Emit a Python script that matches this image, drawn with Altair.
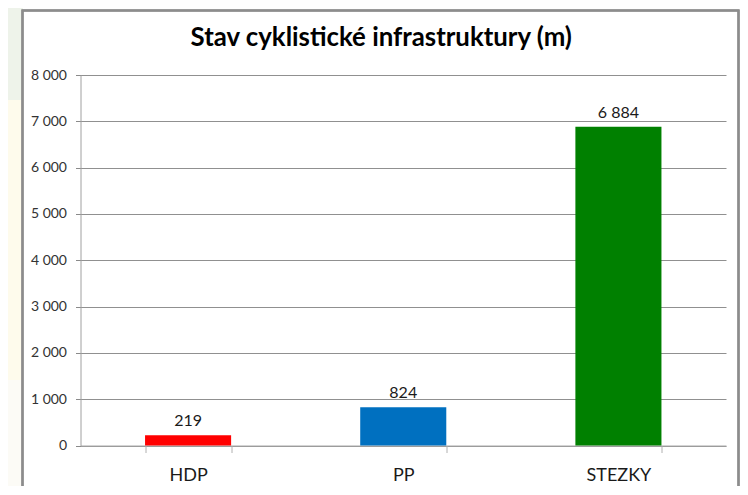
import altair as alt
import pandas as pd

categories = ["HDP", "PP", "STEZKY"]
values = [219, 824, 6884]
colors = ["#ff0000", "#0070c0", "#008000"]
title_text = "Stav cyklistické infrastruktury (m)"
FONT = "Lato"

df = pd.DataFrame({"cat": categories, "val": values, "col": colors})
x = alt.X("cat:N", sort=categories, title=None,
          scale=alt.Scale(paddingInner=0.6, paddingOuter=0.3),
          axis=alt.Axis(labelAngle=0, labelFont=FONT, labelFontSize=18, labelColor="#1a1a1a",
                        labelPadding=14, tickBand="extent", tickSize=7, tickColor="#b0b0b0",
                        domainColor="#a8a8a8", grid=False))
y = alt.Y("val:Q", title=None, scale=alt.Scale(domain=[0, 8000], nice=False),
          axis=alt.Axis(values=list(range(0, 8001, 1000)),
                        labelExpr="replace(format(datum.value, ','), ',', ' ')",
                        labelFont=FONT, labelFontSize=14, labelColor="#333333", labelPadding=9,
                        tickSize=5, tickColor="#8a8a8a", domainColor="#a0a0a0",
                        grid=True, gridColor="#909090", gridOpacity=1))


def strip(color, top, bottom):
    return alt.Chart(df).mark_rect(fill=color, clip=False).encode(
        x=alt.value(-72.5), x2=alt.value(-58), y=alt.value(top), y2=alt.value(bottom))


tints = [strip("#eef3ea", -67, 25), strip("#fefbec", 25, 305), strip("#fcfbf6", 305, 411)]
frame = alt.Chart(df).mark_rect(fill=None, stroke="#8c8c8c", strokeWidth=2, clip=False).encode(
    x=alt.value(-58), x2=alt.value(658), y=alt.value(-64.5), y2=alt.value(430))
base = alt.Chart(df)
bars = base.mark_bar(clip=False).encode(x=x, y=y, color=alt.Color("col:N", scale=None))
labels = base.transform_calculate(lab="replace(format(datum.val, ','), ',', ' ')").mark_text(
    baseline="bottom", dy=-6, font=FONT, fontSize=16, color="#1a1a1a").encode(
    x=alt.X("cat:N", sort=categories), y=alt.Y("val:Q"), text="lab:N")

chart = alt.layer(*tints, frame, bars, labels).properties(
    width=645.5, height=370.5,
    autosize=alt.AutoSizeParams(type="none"),
    padding={"left": 72.5, "top": 67, "right": 14, "bottom": 40},
    background="white",
    title=alt.TitleParams(title_text, font=FONT, fontSize=25.8, fontWeight="bold", color="black",
                          anchor="middle", dx=-22, offset=-44),
).configure_view(stroke=None)
chart.save("out.html", embed_options={"renderer": "svg", "actions": False})
